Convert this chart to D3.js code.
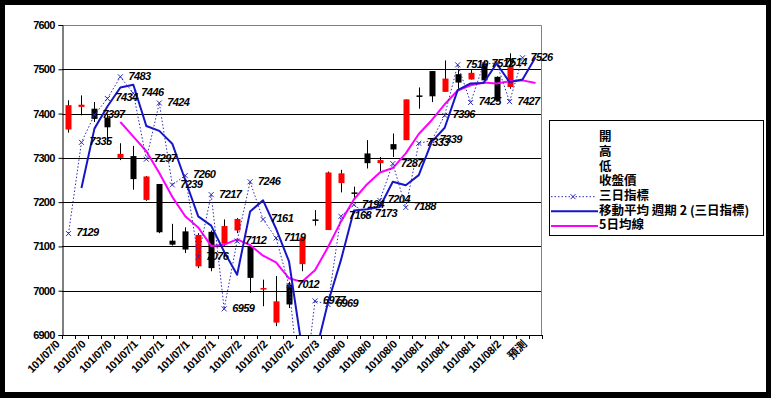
<!DOCTYPE html>
<html>
<head>
<meta charset="utf-8">
<script src="https://cdn.jsdelivr.net/npm/d3@7"></script>
<style>
  body { margin: 0; background: #000; }
  svg { display: block; }
</style>
</head>
<body>
<svg width="771" height="398"></svg>
<script>
// categories: trading days (ROC calendar) + forecast slot
const categories = [
    '101/07/02', '101/07/03', '101/07/04', '101/07/05', '101/07/06', '101/07/09',
    '101/07/10', '101/07/11', '101/07/12', '101/07/13', '101/07/16', '101/07/17',
    '101/07/18', '101/07/19', '101/07/20', '101/07/23', '101/07/24', '101/07/25',
    '101/07/26', '101/07/27', '101/07/30', '101/07/31', '101/08/01', '101/08/03',
    '101/08/06', '101/08/07', '101/08/08', '101/08/09', '101/08/10', '101/08/13',
    '101/08/14', '101/08/15', '101/08/16', '101/08/17', '101/08/20', '101/08/21',
    '預測'
];
// every other category carries a (truncated) label
const tickLabels = categories.map((d, i) => i % 2 === 0 ? d.slice(0, 8) : '');

const openP  = [7364, 7415, 7411, 7391, 7300, 7304, 7205, 7241, 7113, 7134, 7055, 7133, 7106, 7136, 7100, 7004, 6928, 7014, 7060, 7161, 7137, 7243, 7222, 7310, 7288, 7331, 7340, 7441, 7496, 7449, 7489, 7477, 7513, 7483, 7460, null, null];
const highP  = [7430, 7441, 7426, 7400, 7333, 7327, 7259, 7241, 7151, 7143, 7130, 7136, 7161, 7164, 7104, 7025, 7033, 7020, 7122, 7182, 7269, 7273, 7235, 7340, 7302, 7355, 7432, 7459, 7496, 7520, 7498, 7499, 7520, 7484, 7536, null, null];
const lowP   = [7357, 7396, 7381, 7330, 7295, 7228, 7203, 7130, 7102, 7085, 7051, 7044, 7100, 7130, 6995, 6965, 6920, 6961, 7044, 7147, 7137, 7222, 7205, 7276, 7269, 7302, 7340, 7411, 7426, 7449, 7456, 7477, 7475, 7430, 7456, null, null];
const closeP = [7419, 7420, 7388, 7369, 7309, 7252, 7258, 7132, 7104, 7093, 7126, 7051, 7146, 7162, 7029, 7006, 6976, 6969, 7120, 7160, 7267, 7265, 7220, 7288, 7295, 7319, 7432, 7439, 7439, 7479, 7470, 7492, 7475, 7430, 7505, null, null];

// 三日指標 (dotted, labelled); index 18 lies below the axis minimum
const threeDay = [7129, 7335, 7397, 7434, 7483, 7446, 7297, 7424, 7239, 7260, 7076, 7217, 6959, 7112, 7246, 7161, 7119, 7012, 6728, 6977, 6969, 7168, 7194, 7173, 7204, 7287, 7188, 7333, 7339, 7396, 7510, 7425, 7512, 7514, 7427, 7526, null];

// 移動平均 週期 2 (三日指標)
const movAvg2 = [null, 7232, 7366, 7416, 7459, 7465, 7372, 7361, 7332, 7250, 7168, 7147, 7088, 7036, 7179, 7204, 7140, 7066, 6870, 6853, 6973, 7069, 7181, 7184, 7189, 7246, 7238, 7261, 7336, 7368, 7453, 7468, 7469, 7513, 7471, 7477, 7527];

// 5日均線
const ma5 = [null, null, null, null, 7381, 7348, 7315, 7266, 7212, 7168, 7143, 7101, 7104, 7116, 7103, 7079, 7064, 7028, 7020, 7046, 7098, 7156, 7206, 7240, 7267, 7277, 7310, 7354, 7385, 7421, 7452, 7464, 7470, 7468, 7473, 7475, 7469];

const yTicks = [6900, 7000, 7100, 7200, 7300, 7400, 7500, 7600];

const legendItems = [
    { name: '開', type: 'none' },
    { name: '高', type: 'none' },
    { name: '低', type: 'none' },
    { name: '收盤價', type: 'none' },
    { name: '三日指標', type: 'dotted' },
    { name: '移動平均 週期 2 (三日指標)', type: 'blue' },
    { name: '5日均線', type: 'pink' }
];

const svg = d3.select('svg');
const width = +svg.attr('width');
const height = +svg.attr('height');
const plot = { left: 62, right: 542, top: 25, bottom: 335 };
const numFont = '"Liberation Sans", Arial, sans-serif';
const cjkFont = '"Noto Sans CJK TC", "Noto Sans CJK SC", sans-serif';
const blue = '#1616c8';
const dotBlue = '#2a2ab8';

svg.append('rect').attr('width', width).attr('height', height).attr('fill', '#000');
svg.append('rect').attr('x', 5).attr('y', 5).attr('width', 761).attr('height', 387).attr('fill', '#fff');

const x = d3.scaleBand().domain(d3.range(categories.length)).range([plot.left, plot.right]);
const cx = i => x(i) + x.bandwidth() / 2;
const y = d3.scaleLinear().domain([6900, 7600]).range([plot.bottom, plot.top]);

svg.append('clipPath').attr('id', 'plotClip')
    .append('rect')
    .attr('x', plot.left).attr('y', plot.top)
    .attr('width', plot.right - plot.left).attr('height', plot.bottom - plot.top);

// gridlines
svg.append('g').selectAll('line')
    .data(yTicks.filter(v => v > 6900 && v < 7600))
    .join('line')
    .attr('x1', plot.left).attr('x2', plot.right)
    .attr('y1', d => Math.round(y(d)) + 0.5).attr('y2', d => Math.round(y(d)) + 0.5)
    .attr('stroke', '#000');

// plot border top/right (grey)
svg.append('path')
    .attr('d', `M${plot.left},${plot.top + 0.5}H${plot.right - 0.5}V${plot.bottom}`)
    .attr('fill', 'none').attr('stroke', '#808080');

// y axis
const yAxis = svg.append('g')
    .attr('transform', `translate(${plot.left + 0.5},0)`)
    .call(d3.axisLeft(y).tickValues(yTicks).tickSize(4).tickPadding(4).tickFormat(d3.format('d')));
yAxis.select('.domain').attr('stroke', '#000');
yAxis.selectAll('.tick line').attr('stroke', '#000');
yAxis.selectAll('text')
    .attr('font-family', numFont).attr('font-size', '11px').attr('font-weight', 'bold')
    .attr('letter-spacing', '-0.8px').attr('fill', '#000');

// x axis line and ticks on category boundaries
svg.append('line')
    .attr('x1', plot.left).attr('x2', plot.right)
    .attr('y1', plot.bottom + 0.5).attr('y2', plot.bottom + 0.5)
    .attr('stroke', '#000');
const bounds = d3.range(categories.length + 1).map(i => i < categories.length ? x(i) : plot.right);
svg.append('g').selectAll('line')
    .data(bounds)
    .join('line')
    .attr('x1', d => Math.round(d) + 0.5).attr('x2', d => Math.round(d) + 0.5)
    .attr('y1', plot.bottom).attr('y2', plot.bottom + 4)
    .attr('stroke', '#000');

categories.forEach((c, i) => {
    if (!tickLabels[i]) return;
    const px = cx(i) - 8, py = 345;
    svg.append('text')
        .attr('x', px).attr('y', py)
        .attr('transform', `rotate(-45,${px},${py})`)
        .attr('text-anchor', 'end')
        .attr('font-family', i === categories.length - 1 ? cjkFont : numFont)
        .attr('font-size', '11px').attr('font-weight', 'bold')
        .attr('letter-spacing', '-0.3px')
        .text(tickLabels[i]);
});

const g = svg.append('g').attr('clip-path', 'url(#plotClip)');

// candlesticks
const bodyW = 6;
categories.forEach((c, i) => {
    if (openP[i] == null) return;
    const xc = Math.round(cx(i)) + 0.5;
    const up = closeP[i] >= openP[i];
    g.append('line')
        .attr('x1', xc).attr('x2', xc)
        .attr('y1', y(highP[i])).attr('y2', y(lowP[i]))
        .attr('stroke', '#000');
    const top = y(Math.max(openP[i], closeP[i]));
    const bot = y(Math.min(openP[i], closeP[i]));
    g.append('rect')
        .attr('x', xc - bodyW / 2).attr('y', top)
        .attr('width', bodyW).attr('height', Math.max(bot - top, 1.5))
        .attr('fill', up ? '#ff0000' : '#000');
});

// 5-day average
const line = data => d3.line()
    .defined(i => data[i] != null)
    .x(i => cx(i))
    .y(i => y(data[i]))(d3.range(data.length));

g.append('path')
    .attr('d', line(ma5))
    .attr('fill', 'none').attr('stroke', '#ff00ff').attr('stroke-width', 2)
    .attr('stroke-linejoin', 'round');

// moving average of 三日指標
g.append('path')
    .attr('d', line(movAvg2))
    .attr('fill', 'none').attr('stroke', blue).attr('stroke-width', 2)
    .attr('stroke-linejoin', 'round');

// 三日指標 dotted with markers
g.append('path')
    .attr('d', line(threeDay))
    .attr('fill', 'none').attr('stroke', dotBlue).attr('stroke-width', 1)
    .attr('stroke-dasharray', '1.5,2');

threeDay.forEach((v, i) => {
    if (v == null) return;
    const px = cx(i), py = y(v);
    g.append('path')
        .attr('d', `M${px - 2.5},${py - 2.5}L${px + 2.5},${py + 2.5}M${px - 2.5},${py + 2.5}L${px + 2.5},${py - 2.5}`)
        .attr('stroke', dotBlue).attr('stroke-width', 1);
});

// data labels (drawn outside the clip so they can overhang the plot edge)
threeDay.forEach((v, i) => {
    if (v == null || v < 6900) return;
    svg.append('text')
        .attr('x', cx(i) + 8).attr('y', y(v))
        .attr('dominant-baseline', 'middle')
        .attr('font-family', numFont).attr('font-size', '11px')
        .attr('font-weight', 'bold').attr('font-style', 'italic')
        .attr('letter-spacing', '-0.6px')
        .attr('fill', '#000')
        .text(v);
});

// legend
const lg = svg.append('g');
lg.append('rect')
    .attr('x', 549.5).attr('y', 120.5).attr('width', 214).attr('height', 115)
    .attr('fill', '#fff').attr('stroke', '#000');

legendItems.forEach((d, i) => {
    const ly = 138 + i * 14.67;
    if (d.type === 'dotted') {
        lg.append('line')
            .attr('x1', 551).attr('x2', 595).attr('y1', ly).attr('y2', ly)
            .attr('stroke', dotBlue).attr('stroke-dasharray', '1.5,2');
        lg.append('path')
            .attr('d', `M${573 - 2.5},${ly - 2.5}L${573 + 2.5},${ly + 2.5}M${573 - 2.5},${ly + 2.5}L${573 + 2.5},${ly - 2.5}`)
            .attr('stroke', dotBlue);
    } else if (d.type === 'blue' || d.type === 'pink') {
        lg.append('line')
            .attr('x1', 551).attr('x2', 598).attr('y1', ly).attr('y2', ly)
            .attr('stroke', d.type === 'blue' ? blue : '#ff00ff').attr('stroke-width', 2);
    }
    lg.append('text')
        .attr('x', 599).attr('y', ly)
        .attr('dominant-baseline', 'middle')
        .attr('font-family', cjkFont).attr('font-size', '12.5px').attr('font-weight', 'bold')
        .attr('fill', '#000')
        .text(d.name);
});
</script>
</body>
</html>
